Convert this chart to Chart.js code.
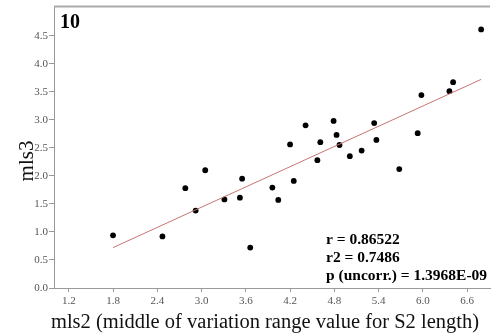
<!DOCTYPE html>
<html>
<head>
<meta charset="utf-8">
<script src="https://cdn.jsdelivr.net/npm/chart.js@4.4.1/dist/chart.umd.min.js"></script>
<style>
html, body { margin: 0; padding: 0; background: #fff; }
#wrap { width: 494px; height: 334px; position: relative; }
</style>
</head>
<body>
<div id="wrap"><canvas id="scatterChart"></canvas></div>
<script>
// values
const mls2 = [1.80, 2.47, 2.78, 2.92, 3.05, 3.31, 3.52, 3.55, 3.66, 3.96, 4.04, 4.20, 4.25, 4.41, 4.57,
    4.61, 4.79, 4.83, 4.87, 5.01, 5.17, 5.34, 5.37, 5.68, 5.93, 5.98, 6.36, 6.41, 6.79];
const mls3 = [0.94, 0.92, 1.78, 1.38, 2.10, 1.58, 1.61, 1.95, 0.72, 1.79, 1.57, 2.56, 1.91, 2.90, 2.28,
    2.60, 2.98, 2.73, 2.55, 2.35, 2.45, 2.94, 2.64, 2.12, 2.76, 3.44, 3.51, 3.67, 4.61];
const fitX = [1.80, 6.79];
const fitY = [0.72, 3.72];
const xTicks = [1.2, 1.8, 2.4, 3.0, 3.6, 4.2, 4.8, 5.4, 6.0, 6.6];
const yTicks = [0.0, 0.5, 1.0, 1.5, 2.0, 2.5, 3.0, 3.5, 4.0, 4.5];
const panelLabel = '10';
const statsLines = ['r = 0.86522', 'r2 = 0.7486', 'p (uncorr.) = 1.3968E-09'];
const xTitle = 'mls2 (middle of variation range value for S2 length)';
const yTitle = 'mls3';

const serif = "'Liberation Serif', 'Times New Roman', serif";

const textPlugin = {
    id: 'textPlugin',
    afterDraw(chart) {
        const ctx = chart.ctx;
        const area = chart.chartArea;
        ctx.save();
        // top frame line
        ctx.strokeStyle = '#aaa';
        ctx.lineWidth = 2;
        ctx.beginPath();
        ctx.moveTo(area.left, area.top - 1);
        ctx.lineTo(area.right, area.top - 1);
        ctx.stroke();

        ctx.fillStyle = '#000';
        ctx.textBaseline = 'alphabetic';
        ctx.textAlign = 'left';
        ctx.font = 'bold 20px ' + serif;
        ctx.fillText(panelLabel, 60, 28);

        ctx.font = 'bold 15.5px ' + serif;
        statsLines.forEach((s, i) => ctx.fillText(s, 326, 244 + i * 18));

        ctx.fillStyle = '#111';
        ctx.font = '20.5px ' + serif;
        ctx.textAlign = 'center';
        ctx.fillText(xTitle, 265, 328);

        ctx.font = '21px ' + serif;
        ctx.translate(33, 161);
        ctx.rotate(-Math.PI / 2);
        ctx.fillText(yTitle, 0, 0);
        ctx.restore();
    }
};

const chartItem = document.getElementById('scatterChart');
new Chart(chartItem, {
    type: 'scatter',
    data: {
        datasets: [{
            label: 'fit',
            type: 'line',
            data: fitX.map((x, i) => ({ x: x, y: fitY[i] })),
            borderColor: '#c87474',
            borderWidth: 1,
            pointRadius: 0,
            fill: false
        },
        {
            label: 'mls3',
            data: mls2.map((x, i) => ({ x: x, y: mls3[i] })),
            backgroundColor: '#000',
            borderColor: '#000',
            pointRadius: 2.9,
            borderWidth: 0
        }]
    },
    options: {
        responsive: true,
        maintainAspectRatio: false,
        animation: false,
        layout: {
            padding: { top: 7, right: 0, bottom: 0, left: 0 }
        },
        plugins: {
            legend: { display: false },
            tooltip: { enabled: false }
        },
        scales: {
            x: {
                type: 'linear',
                min: 1.0,
                max: 6.91,
                afterBuildTicks: (scale) => { scale.ticks = xTicks.map(v => ({ value: v })); },
                afterFit: (scale) => { scale.height = 46; },
                border: { display: true, color: '#999', width: 1 },
                grid: { drawOnChartArea: false, drawTicks: true, tickLength: 4, tickColor: '#999' },
                ticks: {
                    autoSkip: false,
                    maxRotation: 0,
                    padding: 3,
                    color: '#555',
                    font: { family: serif, size: 11 },
                    callback: (v) => Number(v).toFixed(1)
                }
            },
            y: {
                type: 'linear',
                min: 0,
                max: 5.0,
                afterBuildTicks: (scale) => { scale.ticks = yTicks.map(v => ({ value: v })); },
                afterFit: (scale) => { scale.width = 54; },
                border: { display: true, color: '#999', width: 1 },
                grid: { drawOnChartArea: false, drawTicks: true, tickLength: 5, tickColor: '#999' },
                ticks: {
                    padding: 1,
                    color: '#555',
                    font: { family: serif, size: 11 },
                    callback: (v) => Number(v).toFixed(1)
                }
            }
        }
    },
    plugins: [textPlugin]
});
</script>
</body>
</html>
